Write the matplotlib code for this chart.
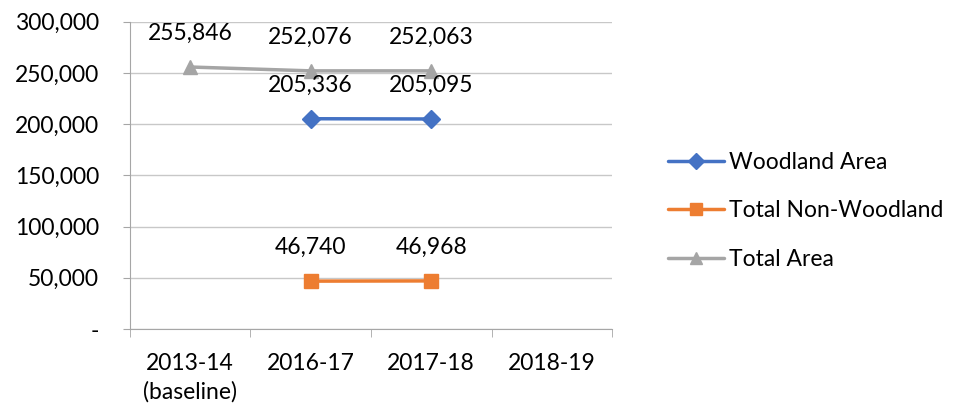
import numpy as np
import matplotlib.pyplot as plt
from matplotlib.ticker import FuncFormatter

plt.rcParams['font.family'] = ['Lato', 'DejaVu Sans']

categories = ['2013-14\n(baseline)', '2016-17', '2017-18', '2018-19']
woodland = [np.nan, 205336, 205095, np.nan]
non_woodland = [np.nan, 46740, 46968, np.nan]
total_area = [255846, 252076, 252063, np.nan]

FS = 16.5

fig = plt.figure(figsize=(9.61, 4.11), dpi=100)
ax = fig.add_axes([0.135, 0.1995, 0.502, 0.7475])

x = np.arange(len(categories))
series = [
    ('Woodland Area', woodland, '#4472C4', 'D', 9.5),
    ('Total Non-Woodland', non_woodland, '#ED7D31', 's', 10),
    ('Total Area', total_area, '#A5A5A5', '^', 10),
]
for name, vals, col, mk, ms in series:
    ax.plot(x, vals, color=col, lw=2.5, marker=mk, markersize=ms,
            label=name, solid_capstyle='round')
    for xi, v in zip(x, vals):
        if not np.isnan(v):
            ax.annotate(f'{v:,.0f}', (xi, v), xytext=(0, 24),
                        textcoords='offset points', ha='center',
                        va='center', fontsize=FS)

ax.set_xlim(-0.5, 3.5)
ax.set_ylim(0, 300000)
ax.set_yticks(np.arange(0, 300001, 50000))
ax.yaxis.set_major_formatter(FuncFormatter(
    lambda v, p: '-' if v == 0 else f'{v:,.0f}'))
ax.set_xticks(x)
ax.set_xticklabels(categories, linespacing=1.45)
ax.set_xticks(np.arange(-0.5, 4, 1), minor=True)
ax.tick_params(axis='x', which='major', length=0, pad=17, labelsize=FS)
ax.tick_params(axis='x', which='minor', length=6, color='#A6A6A6')
ax.tick_params(axis='y', length=5, color='#A6A6A6', labelsize=FS, pad=17)

ax.grid(axis='y', color='#C8C8C8', lw=1)
ax.set_axisbelow(True)
for s in ['top', 'right']:
    ax.spines[s].set_visible(False)
for s in ['left', 'bottom']:
    ax.spines[s].set_color('#A6A6A6')

ax.legend(loc='center left', bbox_to_anchor=(1.097, 0.385), frameon=False,
          fontsize=FS, handlelength=2.45, handletextpad=0.2,
          labelspacing=1.2, borderaxespad=0, markerscale=0.9)

fig.savefig('out.png', dpi=100)
